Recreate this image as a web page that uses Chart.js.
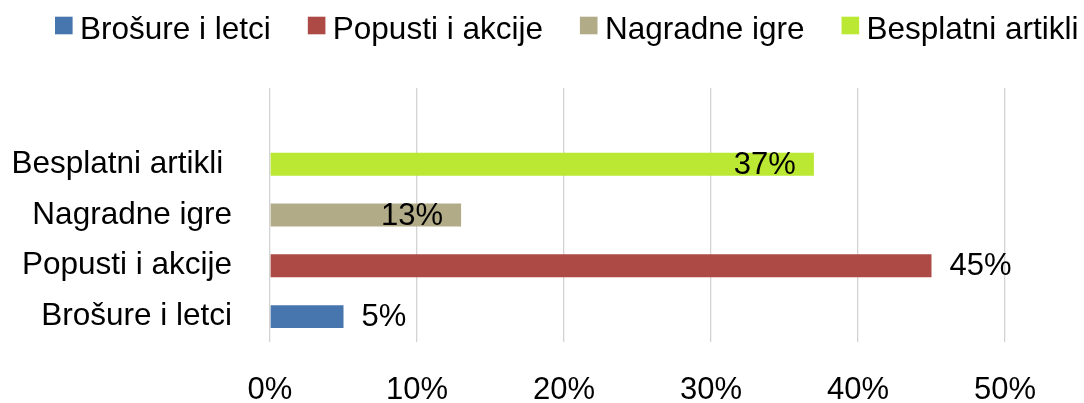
<!DOCTYPE html>
<html>
<head>
<meta charset="utf-8">
<script src="https://cdn.jsdelivr.net/npm/chart.js@4/dist/chart.umd.min.js"></script>
<style>
    body { margin: 0; background: #fff; }
    #wrap { width: 1084px; height: 403px; }
</style>
</head>
<body>
<div id="wrap"><canvas id="chart" width="1084" height="403"></canvas></div>
<script>
// kategorije na osi (odozgo prema dolje), prvi red je prazan kao u originalu
const axisLabels = ['', 'Besplatni artikli ', 'Nagradne igre', 'Popusti i akcije', 'Brošure i letci'];
const seriesNames = ['Brošure i letci', 'Popusti i akcije', 'Nagradne igre', 'Besplatni artikli'];
const seriesValues = [5, 45, 13, 37];
const seriesColors = ['#4775AD', '#AD4A46', '#B2AB88', '#BBE832'];
const tickStep = 10;
const tickMax = 50;
// ove oznake stoje unutar stupca, ostale iza njega
const insideLabels = ['Nagradne igre', 'Besplatni artikli'];

const FONT = "'Liberation Sans', Arial, sans-serif";

const datasets = seriesNames.map((name, i) => ({
    label: name,
    data: axisLabels.map(l => l.trim() === name ? seriesValues[i] : null),
    backgroundColor: seriesColors[i],
    borderWidth: 0,
    categoryPercentage: 1,
    barPercentage: 0.45
}));

const valueLabels = {
    id: 'valueLabels',
    afterDatasetsDraw(chart) {
        const ctx = chart.ctx;
        ctx.save();
        ctx.font = '31px ' + FONT;
        ctx.fillStyle = '#000';
        ctx.textBaseline = 'middle';
        chart.data.datasets.forEach((ds, i) => {
            const meta = chart.getDatasetMeta(i);
            meta.data.forEach((bar, j) => {
                const v = ds.data[j];
                if (v === null) return;
                const text = v + '%';
                if (insideLabels.includes(ds.label)) {
                    ctx.textAlign = 'right';
                    ctx.fillText(text, bar.x - 18, bar.y + 1);
                } else {
                    ctx.textAlign = 'left';
                    ctx.fillText(text, bar.x + 18, bar.y + 1);
                }
            });
        });
        ctx.restore();
    }
};

const topLegend = {
    id: 'topLegend',
    afterDraw(chart) {
        const ctx = chart.ctx;
        ctx.save();
        ctx.font = '31.5px ' + FONT;
        ctx.textBaseline = 'alphabetic';
        ctx.textAlign = 'left';
        let x = 55;
        chart.data.datasets.forEach(ds => {
            ctx.fillStyle = ds.backgroundColor;
            ctx.fillRect(x, 16.7, 17.6, 17.6);
            ctx.fillStyle = '#000';
            ctx.fillText(ds.label, x + 25, 38.5);
            x += 25 + ctx.measureText(ds.label).width + 37;
        });
        ctx.restore();
    }
};

document.addEventListener('DOMContentLoaded', () => {
    const ctx = document.getElementById('chart').getContext('2d');
    new Chart(ctx, {
        type: 'bar',
        data: {
            labels: axisLabels,
            datasets: datasets
        },
        options: {
            indexAxis: 'y',
            responsive: false,
            animation: false,
            layout: {
                padding: { top: 88, right: 79, bottom: 0, left: 0 }
            },
            plugins: {
                legend: { display: false },
                tooltip: { enabled: false }
            },
            scales: {
                x: {
                    type: 'linear',
                    stacked: true,
                    min: 0,
                    max: tickMax,
                    ticks: {
                        stepSize: tickStep,
                        callback: v => v + '%',
                        color: '#000',
                        font: { family: FONT, size: 31, lineHeight: 0.9 },
                        padding: 35
                    },
                    grid: { color: '#d3d3d3', lineWidth: 1.3, drawTicks: false },
                    border: { display: false },
                    afterFit: scale => { scale.height = 61; }
                },
                y: {
                    type: 'category',
                    stacked: true,
                    ticks: {
                        autoSkip: false,
                        color: '#000',
                        font: { family: FONT, size: 31.5 },
                        padding: 38
                    },
                    grid: { display: false, drawTicks: false },
                    border: { display: false },
                    afterFit: scale => { scale.width = 270; }
                }
            }
        },
        plugins: [valueLabels, topLegend]
    });
});
</script>
</body>
</html>
